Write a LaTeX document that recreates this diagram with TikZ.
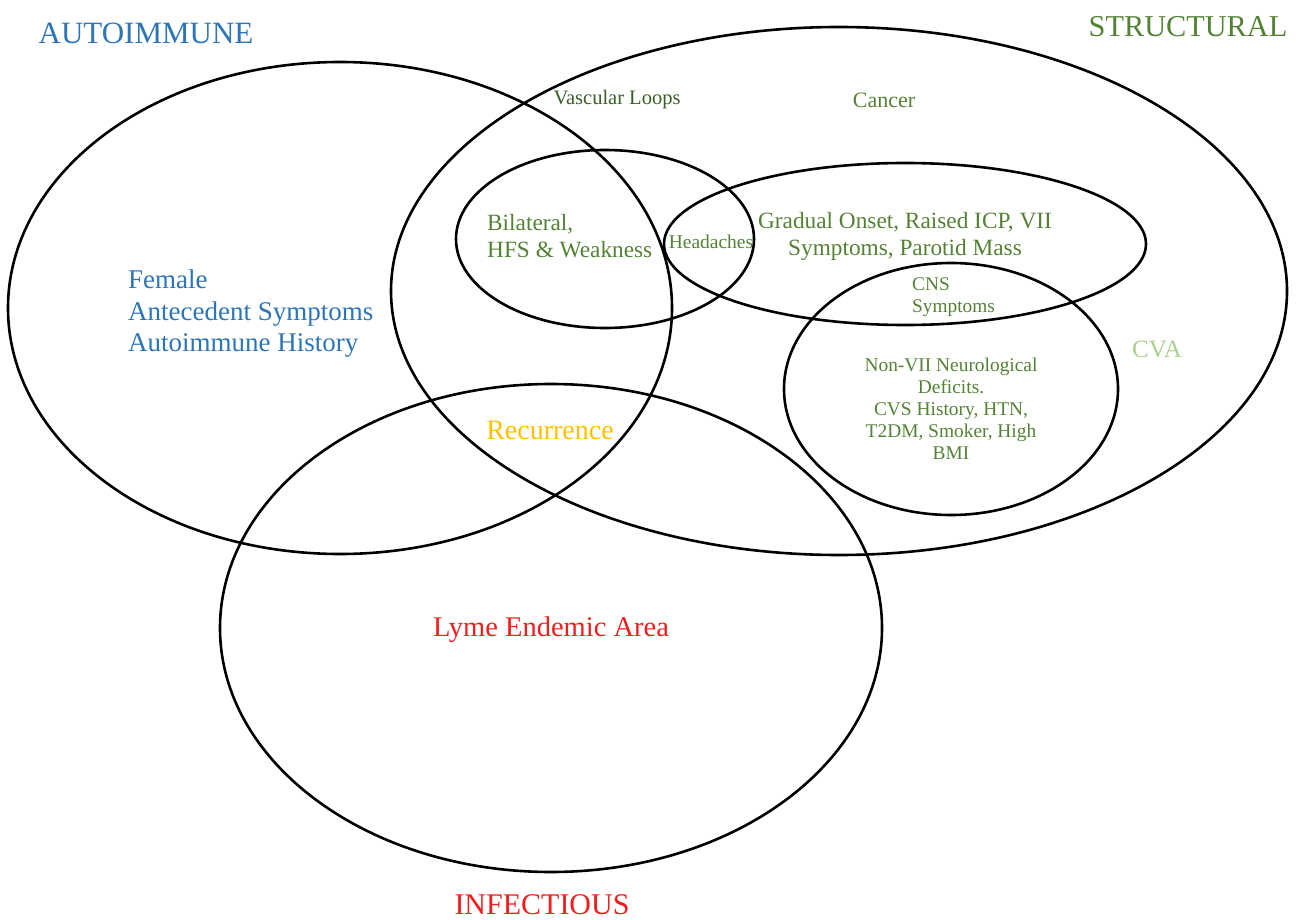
\documentclass[tikz,border=0pt]{standalone}
\usepackage{fontspec}
\setmainfont{Liberation Serif}
\usetikzlibrary{shapes.geometric}
\definecolor{aublue}{HTML}{2E75B6}
\definecolor{stgreen}{HTML}{548235}
\definecolor{dkgreen}{HTML}{3A5E26}
\definecolor{ltgreen}{HTML}{A9D18E}
\definecolor{recorange}{HTML}{FFC000}
\definecolor{infred}{HTML}{F01E1E}
\newcommand{\fsz}[2]{\fontsize{#1}{#2}\selectfont}
\begin{document}
\begin{tikzpicture}[x=1pt,y=-1pt,
  vennline/.style={draw=black, line width=2.6pt},
  lbl/.style={inner sep=0pt, align=center}]
\useasboundingbox (0,0) rectangle (1296,920);
% ellipses
\draw[vennline] (340,308) ellipse [x radius=332, y radius=246];
\coordinate (autoE) at (340,308);
\draw[vennline] (839,291) ellipse [x radius=448, y radius=264];
\coordinate (structE) at (839,291);
\draw[vennline] (551,628) ellipse [x radius=331, y radius=244];
\coordinate (infE) at (551,628);
\draw[vennline] (605,239) ellipse [x radius=149, y radius=89];
\coordinate (bilatE) at (605,239);
\draw[vennline] (905,244) ellipse [x radius=241, y radius=81];
\coordinate (gradE) at (905,244);
\draw[vennline] (951,389) ellipse [x radius=167, y radius=126];
\coordinate (cvaE) at (951,389);
% titles
\node[lbl, text=aublue, font=\fsz{31}{34}] (tAuto) at (146,33) {AUTOIMMUNE};
\node[lbl, text=stgreen, font=\fsz{30.3}{34}] (tStruct) at (1188,27) {STRUCTURAL};
\node[lbl, text=infred, font=\fsz{30}{32}] (tInf) at (542,905) {INFECTIOUS};
% labels
\node[lbl, text=dkgreen, font=\fsz{20.5}{22}] (vasc) at (617,100) {Vascular Loops};
\node[lbl, text=stgreen, font=\fsz{22}{24}] (cancer) at (884,100) {Cancer};
\node[lbl, text=stgreen, font=\fsz{23.3}{27}, align=left, anchor=west] (bilat) at (487,236) {Bilateral,\\HFS \& Weakness};
\node[lbl, text=stgreen, font=\fsz{19.5}{20}] (head) at (711,242) {Headaches};
\node[lbl, text=stgreen, font=\fsz{23.3}{27}] (grad) at (905,236) {Gradual Onset, Raised ICP, VII\\Symptoms, Parotid Mass};
\node[lbl, text=stgreen, font=\fsz{19.3}{22}, align=left, anchor=west] (cns) at (912,297) {CNS\\Symptoms};
\node[lbl, text=ltgreen, font=\fsz{25}{26}] (cva) at (1157,349) {CVA};
\node[lbl, text=stgreen, font=\fsz{19.4}{22}] (nonvii) at (951,409) {Non-VII Neurological\\Deficits.\\CVS History, HTN,\\T2DM, Smoker, High\\BMI};
\node[lbl, text=aublue, font=\fsz{27}{31.5}, align=left, anchor=west] (fem) at (128,314) {Female\\Antecedent Symptoms\\Autoimmune History};
\node[lbl, text=recorange, font=\fsz{28}{30}] (rec) at (550,430) {Recurrence};
\node[lbl, text=infred, font=\fsz{28.5}{30}] (lyme) at (551,630) {Lyme Endemic Area};
\end{tikzpicture}
\end{document}
